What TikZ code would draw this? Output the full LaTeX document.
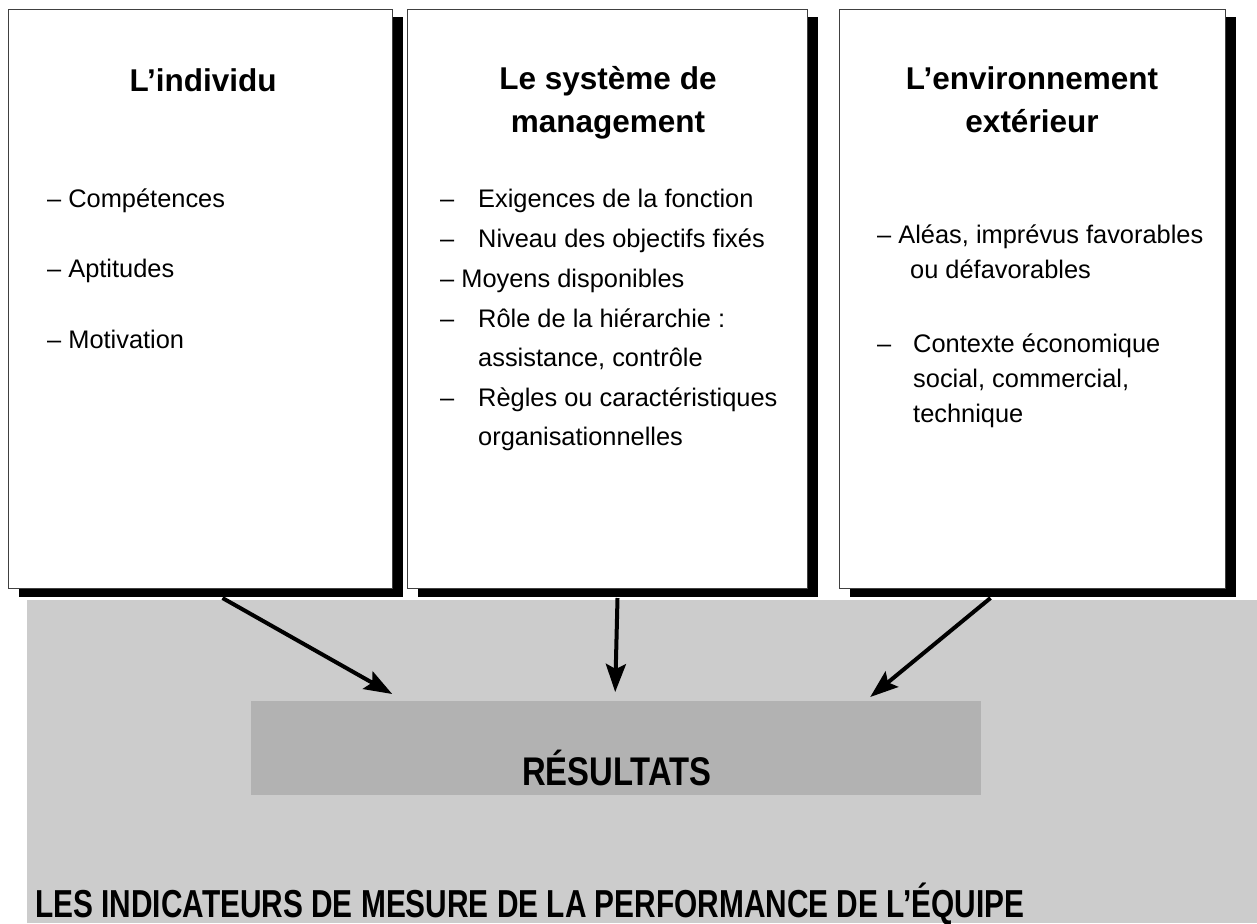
\documentclass[tikz,border=0pt]{standalone}
\usepackage{fontspec}
\setmainfont{Liberation Sans}
\usepackage{tikz}
\usetikzlibrary{arrows.meta, shadows}

\definecolor{panelgray}{HTML}{CCCCCC}
\definecolor{resgray}{HTML}{B2B2B2}

\tikzset{
  card/.style={draw=black!75, line width=1pt, fill=white, anchor=north west,
    general shadow={fill=black, shadow xshift=10pt, shadow yshift=-8pt}},
  cardtitle/.style={font=\fontsize{31.5}{38}\selectfont\bfseries, anchor=base, inner sep=0pt},
  item/.style={font=\fontsize{25.4}{30}\selectfont, anchor=base west, inner sep=0pt},
  arr/.style={-{Stealth[length=28pt, width=20pt, inset=5pt]}, line width=4pt},
}

\begin{document}
\begin{tikzpicture}[x=1pt, y=-1pt]
    \useasboundingbox (0,0) rectangle (1257,923);

    % Grey panel and result block
    \fill[panelgray] (27,600) rectangle (1257,923);
    \node[fill=resgray, minimum width=730pt, minimum height=94pt, anchor=north west, inner sep=0pt] (res) at (251,701) {};
    \node[font=\fontsize{40}{40}\selectfont\bfseries, anchor=base, inner sep=0pt] (restxt) at (617,785) {\scalebox{0.82}[1]{RÉSULTATS}};
    \node[font=\fontsize{39}{39}\selectfont\bfseries, anchor=base west, inner sep=0pt] (perf) at (35,917) {\scalebox{0.765}[1]{LES INDICATEURS DE MESURE DE LA PERFORMANCE DE L’ÉQUIPE}};

    % The three boxes
    \node[card, minimum width=384pt, minimum height=579pt] (ind) at (8,9) {};
    \node[card, minimum width=400pt, minimum height=579pt] (sys) at (407,9) {};
    \node[card, minimum width=386pt, minimum height=579pt] (env) at (839,9) {};

    % L'individu
    \node[cardtitle] (indt) at (203,92) {L’individu};
    \node[item] (ind1) at (47,207) {– Compétences};
    \node[item] (ind2) at (47,277) {– Aptitudes};
    \node[item] (ind3) at (47,348) {– Motivation};

    % Le systeme de management
    \node[cardtitle] (syst1) at (608,90) {Le système de};
    \node[cardtitle] (syst2) at (608,132) {management};
    \node[item] (sys1) at (440,207) {\makebox[38pt][l]{–}Exigences de la fonction};
    \node[item] (sys2) at (440,247) {\makebox[38pt][l]{–}Niveau des objectifs fixés};
    \node[item] (sys3) at (440,287) {– Moyens disponibles};
    \node[item] (sys4) at (440,327) {\makebox[38pt][l]{–}Rôle de la hiérarchie :};
    \node[item] (sys4b) at (478,366) {assistance, contrôle};
    \node[item] (sys5) at (440,406) {\makebox[38pt][l]{–}Règles ou caractéristiques};
    \node[item] (sys5b) at (478,445) {organisationnelles};

    % L'environnement exterieur
    \node[cardtitle] (envt1) at (1032,90) {L’environnement};
    \node[cardtitle] (envt2) at (1032,132) {extérieur};
    \node[item] (env1) at (877,243) {– Aléas, imprévus favorables};
    \node[item] (env1b) at (910,278) {ou défavorables};
    \node[item] (env2) at (877,352) {\makebox[36pt][l]{–}Contexte économique};
    \node[item] (env2b) at (913,387) {social, commercial,};
    \node[item] (env2c) at (913,422) {technique};

    % Arrows into the result
    \draw[arr] ([xshift=22pt, yshift=-9pt]ind.south) -- ([xshift=-224pt, yshift=7pt]res.north);
    \draw[arr] ([xshift=10pt, yshift=-9pt]sys.south) -- ([xshift=-1pt, yshift=9pt]res.north);
    \draw[arr] ([xshift=-42pt, yshift=-9pt]env.south) -- ([xshift=254pt, yshift=4pt]res.north);
\end{tikzpicture}
\end{document}
